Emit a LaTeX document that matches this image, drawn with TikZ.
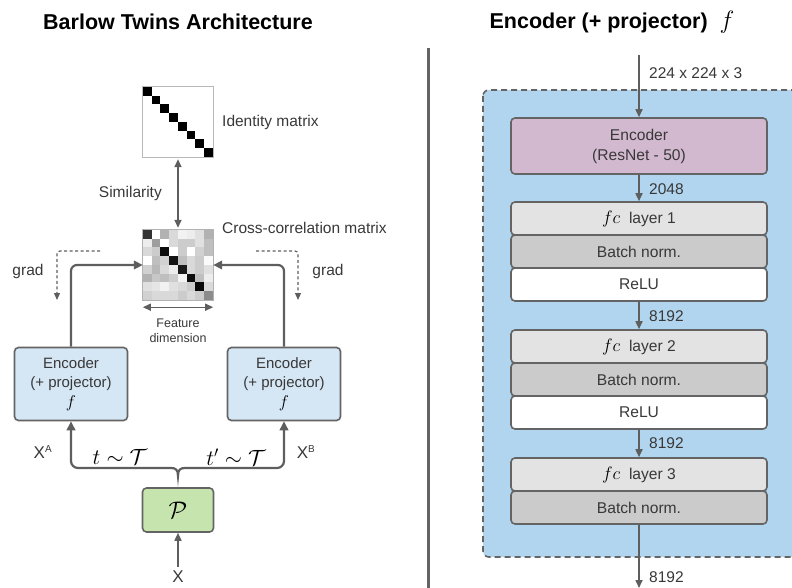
\documentclass[tikz,border=0pt]{standalone}
\usepackage{fix-cm}
\usepackage{fontspec}
\setmainfont{Liberation Sans}
\usetikzlibrary{arrows.meta,calc}

\definecolor{lg}{HTML}{5E5E5E}
\definecolor{bd}{HTML}{646464}
\definecolor{txt}{HTML}{383838}
\definecolor{encblue}{HTML}{D5E6F4}
\definecolor{regionblue}{HTML}{B2D5EF}
\definecolor{purp}{HTML}{D3B9CF}
\definecolor{pgreen}{HTML}{C6E5AE}
\definecolor{fcgray}{HTML}{E3E3E3}
\definecolor{bngray}{HTML}{CBCBCB}

% math symbols inside the boxes are set in black
\newcommand{\mfc}{{\color{black}\fontsize{18}{18}\selectfont$fc$}}
\newcommand{\mff}{{\color{black}\fontsize{17}{19}\selectfont$f$}}

\begin{document}
\begin{tikzpicture}[x=1pt,y=-1pt,
  lbl/.style={text=txt, inner sep=0pt, font=\fontsize{15.5}{18}\selectfont},
  lblr/.style={text=txt, inner sep=0pt, font=\fontsize{15.5}{18}\selectfont},
  arr/.style={draw=lg, line width=2.2pt, -{Triangle[length=9pt,width=8.5pt]}},
  arrS/.style={draw=lg, line width=1.6pt, -{Triangle[length=8pt,width=7pt]}},
  dbl/.style={draw=lg, line width=1.6pt, {Triangle[length=8pt,width=7pt]}-{Triangle[length=8pt,width=7pt]}},
  gradarr/.style={draw=lg, line width=1.2pt, dash pattern=on 3pt off 2.5pt, -{Triangle[length=7pt,width=6pt]}},
  encbox/.style={draw=bd, line width=1.6pt, rounded corners=4pt, fill=encblue,
    minimum width=113pt, minimum height=73pt, align=center, text=txt,
    font=\fontsize{15}{19.5}\selectfont},
  layer/.style={draw=bd, line width=1.6pt, rounded corners=4pt, minimum width=256pt,
    minimum height=33pt, inner sep=0pt, text=txt, font=\fontsize{15.6}{18}\selectfont},
  title/.style={inner sep=0pt, font=\bfseries\fontsize{21.5}{25}\selectfont}
]
\useasboundingbox (0,0) rectangle (792,588);

% ---------- titles and divider ----------
\node[title] (t1) at (178,22) {Barlow Twins Architecture};
\node[title] (t2) at (612,22) {Encoder (+ projector)\ \ {\fontsize{25}{27}\selectfont$f$}};
\draw[line width=3pt, color=bd] (428,48) -- (428,588);

% ---------- identity matrix ----------
\node[minimum size=70pt, inner sep=0pt] (id) at (178,122) {};
\foreach \i in {0,...,7}
  \fill[black] ($(id.north west)+(\i*8.75,\i*8.75)$) rectangle +(8.75,8.75);
\draw[black!28, line width=0.8pt] (id.north west) rectangle (id.south east);
\node[lbl, anchor=west] (idl) at (222,122) {Identity matrix};

% ---------- cross-correlation matrix ----------
\node[minimum size=70pt, inner sep=0pt] (cc) at (178,265) {};
\foreach \vals [count=\r from 0] in {
  {20,100,70,85,95,93,88,70},
  {93,62,100,85,80,80,88,75},
  {85,80,5,100,80,100,82,75},
  {100,75,82,8,75,85,80,98},
  {82,72,85,92,10,85,80,88},
  {70,78,75,80,95,5,75,93},
  {88,90,95,88,85,80,3,85},
  {82,85,85,85,80,85,80,55}} {
  \foreach \v [count=\c from 0] in \vals
    \fill[white!\v!black] ($(cc.north west)+(\c*8.75,\r*8.75)$) rectangle +(8.75,8.75);
}
\draw[black!30, line width=0.8pt] (cc.north west) rectangle (cc.south east);
\node[lbl, anchor=west] (ccl) at (222,228) {Cross-correlation matrix};

% similarity
\draw[dbl, shorten <=2pt, shorten >=2pt] (id.south) -- (cc.north);
\node[lbl, anchor=east] (sim) at (162,193) {Similarity};

% feature dimension
\draw[dbl, line width=1.4pt] ([yshift=-7pt]cc.south west) -- ([yshift=-7pt]cc.south east);
\node[text=txt, align=center, inner sep=0pt, font=\fontsize{12.5}{15}\selectfont] (fd) at (178,331) {Feature\\dimension};

% ---------- encoders ----------
\node[encbox] (encA) at (71,384) {Encoder\\(+ projector)\\\mff};
\node[encbox] (encB) at (284,384) {Encoder\\(+ projector)\\\mff};

\draw[arr, rounded corners=6pt] (encA.north) |- (cc.west);
\draw[arr, rounded corners=6pt] (encB.north) |- (cc.east);

% gradient paths
\coordinate (gA0) at (100,251); \coordinate (gA1) at (57,300);
\coordinate (gB0) at (256,251); \coordinate (gB1) at (298,300);
\draw[gradarr, rounded corners=3pt] (gA0) -| (gA1);
\draw[gradarr, rounded corners=3pt] (gB0) -| (gB1);
\node[lbl] (gl) at (28,271) {grad};
\node[lbl] (gr) at (328,271) {grad};

% ---------- augmentation brace ----------
\coordinate (bL) at (171,468);
\coordinate (bR) at (185,468);
\coordinate (bT) at (178,476);
\draw[lg, line width=2.2pt] (bL) .. controls (176,468) and (178,470) .. (bT)
  .. controls (178,470) and (180,468) .. (bR);
\draw[arr, rounded corners=7pt] (bL) -| (encA.south);
\draw[arr, rounded corners=7pt] (bR) -| (encB.south);

\node[text=txt, inner sep=0pt, font=\fontsize{17}{20}\selectfont] (xa) at (43,452) {X\textsuperscript{\fontsize{10}{12}\selectfont A}};
\node[text=txt, inner sep=0pt, font=\fontsize{17}{20}\selectfont] (xb) at (306,452) {X\textsuperscript{\fontsize{10}{12}\selectfont B}};
\node[inner sep=0pt, font=\fontsize{22}{24}\selectfont] (ta) at (120,457) {$t\sim\mathcal{T}$};
\node[inner sep=0pt, font=\fontsize{22}{24}\selectfont] (tb) at (236,457) {$t'\sim\mathcal{T}$};

% ---------- P and input ----------
\node[draw=bd, line width=1.6pt, rounded corners=4pt, fill=pgreen, minimum width=71pt,
  minimum height=44pt, font=\fontsize{24}{26}\selectfont] (P) at (178,510) {$\mathcal{P}$};
\node[text=txt, inner sep=0pt, font=\fontsize{17}{20}\selectfont] (X) at (178,577) {X};
\draw[arrS, shorten <=4pt] (X.north) -- (P.south);

% ---------- encoder (+ projector) detail ----------
\draw[fill=regionblue, draw=bd, line width=1.6pt, dash pattern=on 6pt off 4pt, rounded corners=6pt]
  (483,90) rectangle (810,557);

\node[layer, fill=purp, minimum height=56pt, align=center, font=\fontsize{15.6}{20}\selectfont]
  (enc) at (639,146) {Encoder\\(ResNet - 50)};
\node[layer, fill=fcgray]  (fc1)   at (639,218.5) {\mfc\ \ layer 1};
\node[layer, fill=bngray]  (bn1)   at (639,251.5) {Batch norm.};
\node[layer, fill=white]   (relu1) at (639,284.5) {ReLU};
\node[layer, fill=fcgray]  (fc2)   at (639,346.5) {\mfc\ \ layer 2};
\node[layer, fill=bngray]  (bn2)   at (639,379.5) {Batch norm.};
\node[layer, fill=white]   (relu2) at (639,412.5) {ReLU};
\node[layer, fill=fcgray]  (fc3)   at (639,474.5) {\mfc\ \ layer 3};
\node[layer, fill=bngray]  (bn3)   at (639,507.5) {Batch norm.};

\coordinate (inTop) at (639,55);
\coordinate (outEnd) at (639,588);
\draw[arrS] (inTop) -- (enc.north);
\draw[arrS] (enc.south) -- (fc1.north);
\draw[arrS] (relu1.south) -- (fc2.north);
\draw[arrS] (relu2.south) -- (fc3.north);
\draw[arrS] (bn3.south) -- (outEnd);

\node[lblr, anchor=west] (d0) at (649,73) {224 x 224 x 3};
\node[lblr, anchor=west] (d1) at (649,189) {2048};
\node[lblr, anchor=west] (d2) at (649,316) {8192};
\node[lblr, anchor=west] (d3) at (649,443) {8192};
\node[lblr, anchor=west] (d4) at (649,577) {8192};
\end{tikzpicture}
\end{document}
